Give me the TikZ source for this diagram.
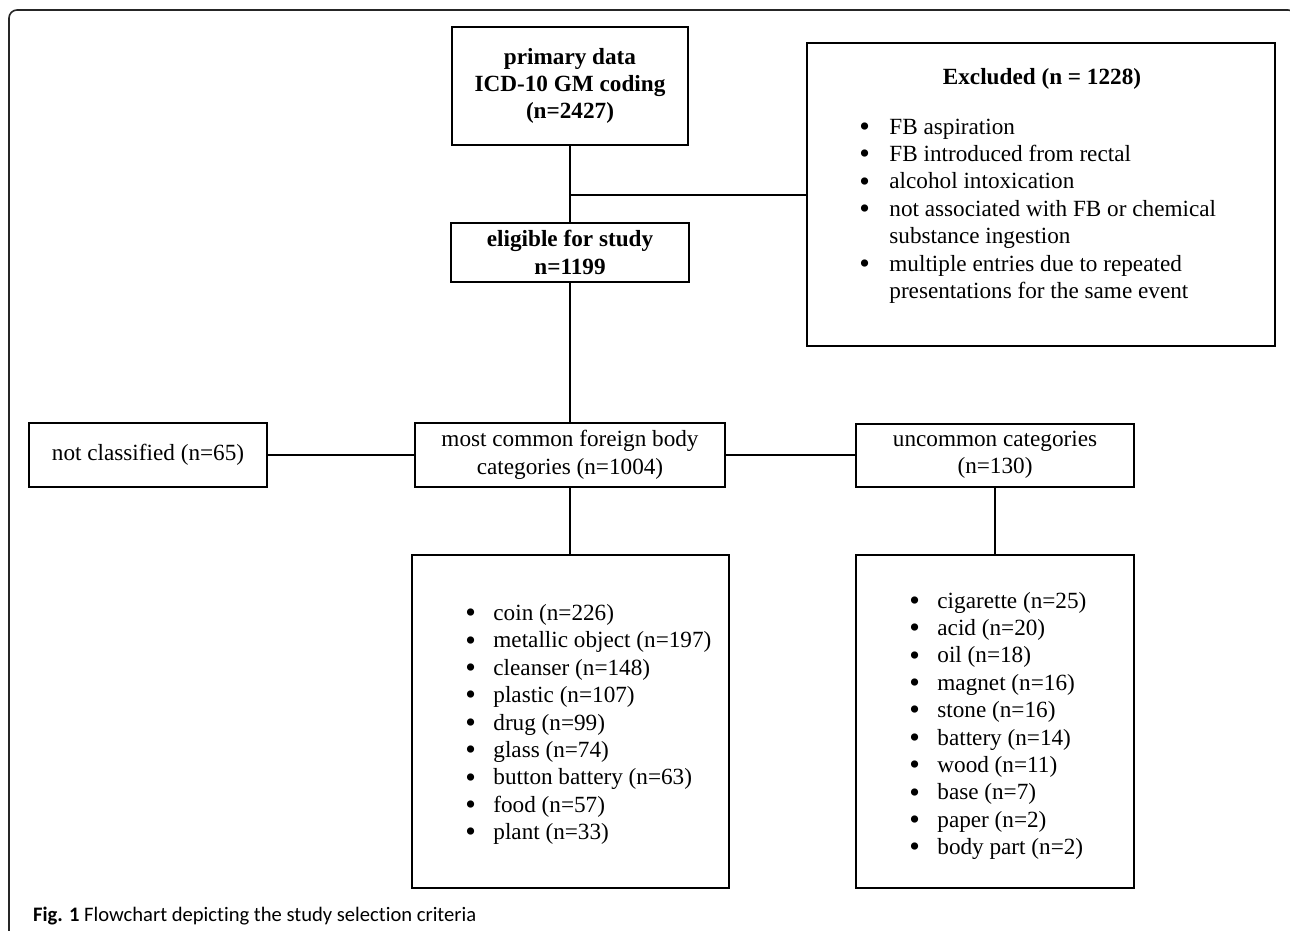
\documentclass[tikz,border=0pt]{standalone}
\usepackage{fontspec}
\setmainfont{Liberation Serif}
\newfontfamily\capfont[Ligatures=NoCommon]{Carlito}
\usetikzlibrary{positioning}

\tikzset{
  box/.style={draw, line width=1pt, align=center, inner sep=0pt},
  link/.style={line width=1pt},
  item/.style={anchor=base west, inner sep=0pt},
  frame/.style={draw=black!85, line width=0.8pt, rounded corners=4pt},
}
\newcommand{\bul}[1][14pt]{\makebox[#1][l]{\raisebox{-1.1pt}{\scalebox{1.3}{\textbullet}}}}

\begin{document}
\fontsize{11.6}{13.7}\selectfont
\begin{tikzpicture}[x=0.5pt,y=-0.5pt]

      \useasboundingbox (0,0) rectangle (1290,931);
      \draw[frame] (9,940) -- (9,10) -- (1296,10) -- (1296,940); % outer frame

      % top of the chart
      \node[box, minimum width=118pt, minimum height=59pt, font=\bfseries] (prim) at (570,86) {primary data\\ICD-10 GM coding\\(n=2427)};
      \node[box, minimum width=119pt, minimum height=29.5pt, font=\bfseries] (elig) at (570,252.5) {eligible for study\\n=1199};

      \node[box, minimum width=234pt, minimum height=151.5pt] (excl) at (1041,194.5) {};
      \node[anchor=base, font=\bfseries] (exttl) at (1042,85) {Excluded (n = 1228)};
      \foreach \t [count=\i from 0] in {\bul[15pt]FB aspiration, \bul[15pt]FB introduced from rectal,
          \bul[15pt]alcohol intoxication, \bul[15pt]not associated with FB or chemical,
          \hspace*{15pt}substance ingestion, \bul[15pt]multiple entries due to repeated,
          \hspace*{15pt}presentations for the same event}
        \node[item] (ex\i) at (859, 134+27.45*\i) {\t};

      % categories
      \node[box, minimum width=119pt, minimum height=32pt] (ncl) at (148,455) {not classified (n=65)};
      \node[box, minimum width=155pt, minimum height=32pt] (mc) at (570,455) {most common foreign body\\categories (n=1004)};
      \node[box, minimum width=139pt, minimum height=31.5pt] (unc) at (995,455) {uncommon categories\\(n=130)};

      \node[box, minimum width=158.5pt, minimum height=166.5pt] (mcl) at (570,721.5) {};
      \node[box, minimum width=139pt, minimum height=166.5pt] (ucl) at (995,721.5) {};

      \foreach \t [count=\i from 0] in {coin (n=226), metallic object (n=197), cleanser (n=148),
          plastic (n=107), drug (n=99), glass (n=74), button battery (n=63), food (n=57), plant (n=33)}
        \node[item] (mc\i) at (465, 620.5+27.4*\i) {\bul\t};

      \foreach \t [count=\i from 0] in {cigarette (n=25), acid (n=20), oil (n=18), magnet (n=16),
          stone (n=16), battery (n=14), wood (n=11), base (n=7), paper (n=2), body part (n=2)}
        \node[item] (uc\i) at (909, 608+27.4*\i) {\bul\t};

      % connectors
      \coordinate (br) at (prim.south |- excl.west);
      \draw[link] (prim) -- (elig);
      \draw[link] (br) -- (excl.west);
      \draw[link] (elig) -- (mc);
      \draw[link] (mc) -- (ncl);
      \draw[link] (mc) -- (unc);
      \draw[link] (mc) -- (mcl);
      \draw[link] (unc) -- (ucl);

      \node[anchor=base west, font=\capfont\fontsize{10.3}{12}\selectfont] (cap) at (25,921) {\textbf{Fig. 1} Flowchart depicting the study selection criteria};

\end{tikzpicture}
\end{document}
